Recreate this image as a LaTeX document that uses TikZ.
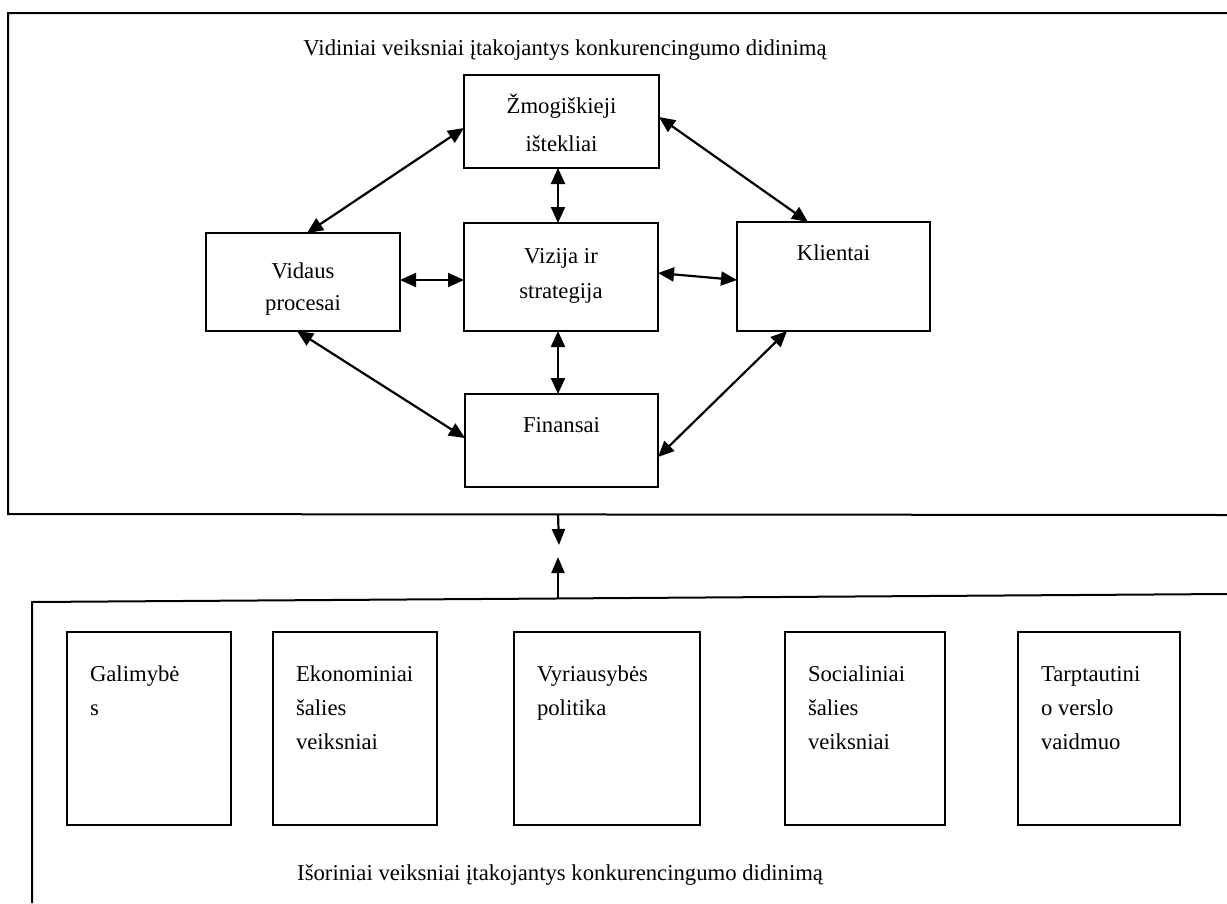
\documentclass[tikz,border=0pt]{standalone}
\usepackage{fontspec}
\setmainfont{Liberation Serif}
\usetikzlibrary{arrows.meta,calc}

% centred text box: height, width, first baseline, line skip, text
\newcommand\cbox[5]{\parbox[c][#1][t]{#2}{\fontsize{22.7}{#4}\selectfont\centering\rule{0pt}{#3}#5}}
% left-aligned text box: height, width, first baseline, line skip, text
\newcommand\lbox[5]{\parbox[c][#1][t]{#2}{\fontsize{22.7}{#4}\selectfont\raggedright\leftskip=23pt\rule{0pt}{#3}#5}}

\tikzset{
  box/.style={draw, line width=1.2pt, inner sep=0pt, outer sep=0pt, anchor=north west},
  frame/.style={line width=2pt},
  link/.style={line width=2.2pt, {Triangle[length=16pt,width=14pt]}-{Triangle[length=16pt,width=14pt]}},
  oneway/.style={line width=2.2pt, -{Triangle[length=16pt,width=13pt]}},
  title/.style={font=\fontsize{22.7}{27}\selectfont, inner sep=0pt}
}

\begin{document}
\begin{tikzpicture}[x=1pt,y=-1pt]
\useasboundingbox (0,0) rectangle (1227,903);

% internal factors frame
\draw[frame] (1227,13) -- (8,13) -- (8,514) -- (1227,515);
\node[title, anchor=base] (tin) at (565,55) {Vidiniai veiksniai įtakojantys konkurencingumo didinimą};

\node[box] (zm)  at (464,75)  {\cbox{93pt}{195pt}{38pt}{38pt}{Žmogiškieji\\ištekliai}};
\node[box] (viz) at (464,223) {\cbox{108pt}{194pt}{40pt}{35pt}{Vizija ir\\strategija}};
\node[box] (vid) at (206,233) {\cbox{98pt}{194pt}{45pt}{32pt}{Vidaus\\procesai}};
\node[box] (kli) at (737,222) {\cbox{109pt}{193pt}{38pt}{35pt}{Klientai}};
\node[box] (fin) at (465,394) {\cbox{93pt}{193pt}{38pt}{35pt}{Finansai}};

\draw[link] ($(zm.north west)+(0,53)$) -- ($(vid.north west)+(101,0)$);
\draw[link] ($(zm.north east)+(0,42)$) -- ($(kli.north west)+(71,0)$);
\draw[link] ($(vid.south west)+(91,0)$) -- ($(fin.north west)+(0,44)$);
\draw[link] ($(kli.south west)+(50,0)$) -- ($(fin.north east)+(0,63)$);
\draw[link] ($(vid.north east)+(0,47)$) -- ($(viz.north west)+(0,57)$);
\draw[link] ($(viz.north east)+(0,50)$) -- ($(kli.north west)+(0,58)$);
\draw[link] ($(zm.south west)+(94,0)$) -- ($(viz.north west)+(94,0)$);
\draw[link] ($(viz.south west)+(94,0)$) -- ($(fin.north west)+(93,0)$);

% links between the two frames
\coordinate (dTop) at (558,514);
\coordinate (dTip) at (559,545);
\coordinate (uBase) at (558,598);
\coordinate (uTip) at (558,557);
\draw[oneway] (dTop) -- (dTip);
\draw[oneway] (uBase) -- (uTip);

% external factors frame
\draw[frame] (1227,594) -- (32,602) -- (32,903);

\node[box] (gal) at (67,632)   {\lbox{193pt}{164pt}{49pt}{34pt}{Galimybė\\s}};
\node[box] (eko) at (273,632)  {\lbox{193pt}{164pt}{49pt}{34pt}{Ekonominiai\\šalies\\veiksniai}};
\node[box] (vyr) at (514,632)  {\lbox{193pt}{186pt}{49pt}{34pt}{Vyriausybės\\politika}};
\node[box] (soc) at (785,632)  {\lbox{193pt}{160pt}{49pt}{34pt}{Socialiniai\\šalies\\veiksniai}};
\node[box] (tar) at (1018,632) {\lbox{193pt}{162pt}{49pt}{34pt}{Tarptautini\\o verslo\\vaidmuo}};

\node[title, anchor=base west] (tout) at (297,880) {Išoriniai veiksniai įtakojantys konkurencingumo didinimą};
\end{tikzpicture}
\end{document}
